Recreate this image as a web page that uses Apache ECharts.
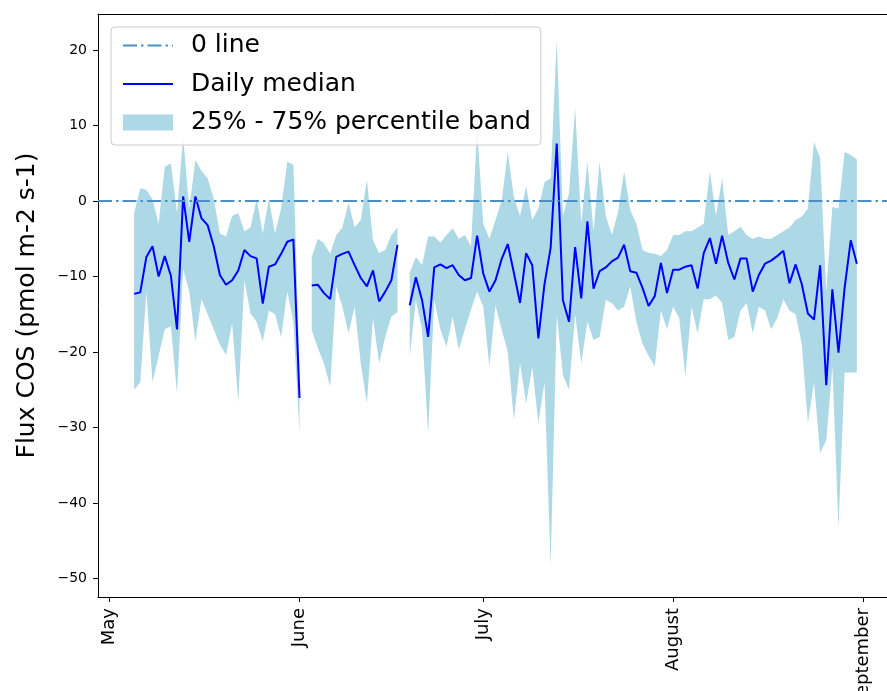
<!DOCTYPE html>
<html><head><meta charset="utf-8">
<script src="https://cdn.jsdelivr.net/npm/echarts@6/dist/echarts.min.js"></script>
<style>html,body{margin:0;padding:0;background:#fff;overflow:hidden}#c{width:887px;height:691px}</style>
</head><body><div id="c"></div>
<script>
// ---- data ----
const firstDay = '2021-05-05';
const lastDay = '2021-08-31';

const medianValues = [
  -12.3, -12.1, -7.4, -6.0, -10.0, -7.3, -9.9, -17.0, 0.6, -5.4,
  0.6, -2.3, -3.2, -6.0, -9.8, -11.1, -10.5, -9.2, -6.5, -7.3,
  -7.6, -13.6, -8.7, -8.4, -7.0, -5.4, -5.1, -26.1, null, -11.2,
  -11.1, -12.2, -13.0, -7.4, -7.0, -6.7, -8.5, -10.2, -11.3, -9.2,
  -13.3, -12.0, -10.5, -5.8, null, -13.8, -10.1, -13.1, -18.0, -8.8,
  -8.4, -8.9, -8.5, -9.8, -10.5, -10.2, -4.6, -9.6, -12.0, -10.5,
  -7.7, -5.7, -9.5, -13.5, -6.9, -8.5, -18.2, -11.0, -6.2, 7.6,
  -13.1, -16.0, -6.1, -12.9, -2.7, -11.6, -9.3, -8.8, -8.0, -7.5,
  -5.8, -9.3, -9.5, -11.5, -13.9, -12.6, -8.2, -12.2, -9.1, -9.1,
  -8.7, -8.5, -11.6, -6.9, -4.9, -8.3, -4.6, -8.2, -10.4, -7.6,
  -7.6, -12.0, -9.8, -8.3, -7.9, -7.3, -6.6, -10.9, -8.4, -11.0,
  -14.9, -15.7, -8.5, -24.4, -11.7, -20.1, -11.5, -5.2, -8.3
];

const upperValues = [
  -1.6, 1.7, 1.5, 0.2, -3.0, 4.5, 5.0, -1.6, 8.5, -1.0,
  5.4, 4.0, 3.0, 0.3, -4.3, -4.7, -2.0, -1.6, -4.0, -3.5,
  0.3, -4.3, 0.3, -4.3, -1.0, 5.2, 4.8, -22.0, null, -7.4,
  -5.0, -5.6, -7.0, -4.5, -3.5, -0.2, -3.5, -2.5, 2.8, -5.2,
  -6.9, -6.5, -4.5, -3.5, null, -9.5, -7.4, -8.5, -4.7, -4.7,
  -5.5, -4.5, -3.6, -5.0, -4.5, -6.0, 9.5, -3.0, -5.0, -2.5,
  0.0, 6.5, 0.5, -2.0, 2.0, -2.5, -1.0, 2.5, 3.0, 21.4,
  -2.0, 1.0, 12.4, -3.0, 5.2, -4.0, 5.2, -2.0, -4.5, -1.5,
  3.9, -1.2, -3.0, -6.5, -6.9, -7.0, -7.3, -6.5, -4.5, -4.5,
  -4.0, -4.0, -3.5, -3.0, 3.9, -2.0, 3.0, -4.5, -4.0, -3.4,
  -4.5, -5.0, -4.7, -5.0, -5.0, -4.5, -4.0, -3.5, -2.5, -2.1,
  -1.0, 7.8, 5.7, -12.0, -0.8, -1.0, 6.5, 6.1, 5.5
];

const lowerValues = [
  -25.0, -24.0, -12.0, -24.0, -20.5, -17.0, -16.6, -25.5, -9.0, -12.0,
  -18.6, -13.0, -15.0, -17.0, -19.0, -20.4, -16.2, -26.6, -10.5, -14.9,
  -16.0, -18.6, -14.5, -15.0, -18.0, -12.0, -16.0, -30.8, null, -17.1,
  -19.5, -21.5, -24.6, -11.3, -14.0, -17.5, -14.0, -21.5, -26.8, -15.5,
  -21.5, -18.0, -15.3, -14.7, null, -20.6, -13.1, -17.1, -30.8, -13.1,
  -17.0, -19.3, -15.3, -19.7, -17.0, -14.4, -12.0, -14.0, -21.9, -13.8,
  -17.0, -20.0, -29.0, -21.5, -26.8, -22.0, -29.4, -24.0, -48.4, -15.0,
  -23.0, -25.0, -15.0, -21.5, -16.0, -18.4, -18.0, -13.1, -13.5, -14.5,
  -14.0, -11.3, -16.0, -18.9, -20.5, -21.9, -14.5, -17.0, -14.0, -15.5,
  -23.2, -14.0, -17.5, -13.0, -13.0, -12.5, -13.5, -18.4, -18.0, -14.5,
  -13.5, -17.5, -14.0, -14.5, -17.0, -15.5, -13.0, -14.5, -15.0, -18.9,
  -29.4, -24.0, -33.4, -31.7, -22.0, -43.3, -22.7, -22.7, -22.7
];

const monthTickDates = ['2021-05-01', '2021-06-01', '2021-07-01', '2021-08-01', '2021-09-01'];
const monthTickLabels = ['May', 'June', 'July', 'August', 'September'];
const yTickValues = [-50, -40, -30, -20, -10, 0, 10, 20];

// ---- helpers ----
function ts(s) { const p = s.split('-').map(Number); return Date.UTC(p[0], p[1] - 1, p[2]); }
const DAY = 86400000;
const dates = [];
for (let t = ts(firstDay); t <= ts(lastDay); t += DAY) dates.push(t);
const pair = (arr) => arr.map((v, i) => [dates[i], v]);
const monthTickTs = monthTickDates.map(ts);
const span = ts(lastDay) - ts(firstDay);
const xMin = ts(firstDay) - span * 0.05;
const xMax = ts(lastDay) + span * 0.05;

const FONT = 'DejaVu Sans';
const BAND = '#ADD8E6';
const zeroColor = '#4a8fc6';
const zeroStyle = { color: zeroColor, width: 2.2, type: [14, 4, 2.5, 4] };

function renderBand(params, api) {
  if (params.dataIndex !== 0) return null;
  const children = [];
  let seg = [];
  const flush = () => {
    if (seg.length > 1) {
      const top = seg.map(i => api.coord([dates[i], upperValues[i]]));
      const bot = seg.slice().reverse().map(i => api.coord([dates[i], lowerValues[i]]));
      children.push({ type: 'polygon', shape: { points: top.concat(bot) }, style: { fill: BAND } });
    }
    seg = [];
  };
  for (let i = 0; i < dates.length; i++) {
    if (upperValues[i] == null || lowerValues[i] == null) flush(); else seg.push(i);
  }
  flush();
  return { type: 'group', children };
}

const chart = echarts.init(document.getElementById('c'), null, { renderer: 'canvas' });
chart.setOption({
  animation: false,
  backgroundColor: '#ffffff',
  grid: { left: 98, top: 14, width: 795, height: 583, outerBoundsMode: 'none', containLabel: false, show: false },
  legend: {
    left: 111, top: 27, orient: 'vertical',
    itemWidth: 50, itemHeight: 16, itemGap: 13.5,
    padding: [6, 10, 10, 11],
    backgroundColor: 'rgba(255,255,255,0.8)', borderColor: '#cccccc', borderWidth: 1, borderRadius: 4,
    textStyle: { fontSize: 25, color: '#000', fontFamily: FONT, padding: [0, 0, 0, 13] },
    data: [
      { name: '0 line', itemStyle: { opacity: 0 } },
      { name: 'Daily median', itemStyle: { opacity: 0 } },
      { name: '25% - 75% percentile band', icon: 'rect', itemStyle: { color: BAND, opacity: 1 } }
    ],
    selectedMode: false
  },
  xAxis: [
    {
      type: 'value', min: xMin, max: xMax, position: 'bottom',
      axisLine: { show: true, onZero: false, lineStyle: { color: '#000', width: 1 } },
      axisTick: { show: true, length: 5, lineStyle: { color: '#000' }, customValues: monthTickTs },
      splitLine: { show: false },
      axisLabel: {
        customValues: monthTickTs, rotate: 90, margin: 11,
        fontSize: 18, color: '#000', fontFamily: FONT,
        formatter: (v) => { const i = monthTickTs.indexOf(v); return i >= 0 ? monthTickLabels[i] : ''; }
      }
    },
    {
      type: 'value', min: xMin, max: xMax, position: 'top',
      axisLine: { show: true, onZero: false, lineStyle: { color: '#000', width: 1 } },
      axisTick: { show: false }, axisLabel: { show: false }, splitLine: { show: false }
    }
  ],
  yAxis: {
    type: 'value', min: -52.45, max: 24.77,
    name: 'Flux COS (pmol m-2 s-1)', nameLocation: 'middle', nameGap: 58,
    nameTextStyle: { fontSize: 25, color: '#000', fontFamily: FONT },
    axisLine: { show: true, onZero: false, lineStyle: { color: '#000', width: 1 } },
    axisTick: { show: true, length: 5, lineStyle: { color: '#000' }, customValues: yTickValues },
    splitLine: { show: false },
    axisLabel: {
      customValues: yTickValues, margin: 11, fontSize: 14, color: '#000', fontFamily: FONT,
      formatter: (v) => v < 0 ? '\u2212' + Math.abs(v) : String(v)
    }
  },
  series: [
    {
      name: '25% - 75% percentile band', type: 'custom',
      data: dates.map((d, i) => [d, lowerValues[i], upperValues[i]]),
      encode: { x: 0, y: [1, 2] },
      renderItem: renderBand,
      itemStyle: { color: BAND }, silent: true, z: 1
    },
    {
      name: '0 line', type: 'line', data: [], symbol: 'none',
      lineStyle: zeroStyle, itemStyle: { color: zeroColor }, z: 2,
      markLine: { symbol: ['none', 'none'], silent: true, label: { show: false }, lineStyle: zeroStyle, data: [{ yAxis: 0 }] }
    },
    {
      name: 'Daily median', type: 'line', data: pair(medianValues), symbol: 'none',
      connectNulls: false, lineStyle: { color: '#0000ff', width: 2 }, itemStyle: { color: '#0000ff' }, z: 3
    }
  ]
});
</script></body></html>
